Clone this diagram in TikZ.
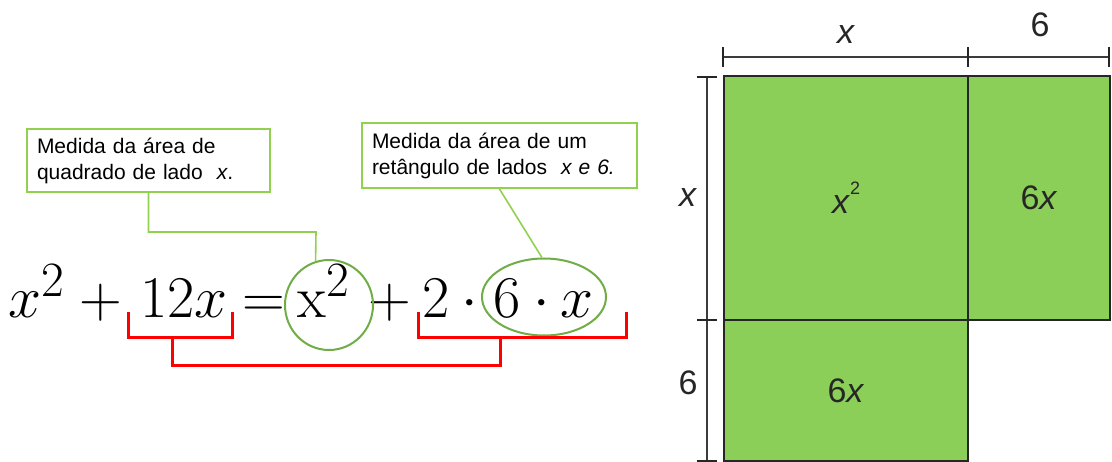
\documentclass[tikz,border=0pt]{standalone}
\usepackage{fontspec}
\setmainfont{Liberation Sans}
\newfontfamily\lmrfont{Latin Modern Roman}
\usetikzlibrary{shapes.geometric}
\definecolor{boxgreen}{RGB}{146,208,80}
\definecolor{ringgreen}{RGB}{112,173,71}
\definecolor{cellgreen}{RGB}{139,207,88}
\definecolor{dimgray}{RGB}{60,60,60}
\tikzset{
  eq/.style={inner sep=0pt, anchor=base, font=\Huge, scale=2.38, transform shape},
  notebox/.style={draw=boxgreen, line width=2pt, inner sep=0pt, align=left,
    font=\fontsize{21}{26}\selectfont},
  conn/.style={draw=boxgreen, line width=1.6pt},
  ring/.style={draw=ringgreen, line width=2pt, ellipse, inner sep=0pt},
  redb/.style={draw=red, line width=3pt},
  cell/.style={draw=black!85, line width=1.3pt, fill=cellgreen, inner sep=0pt,
    font=\fontsize{34}{38}\selectfont, text=black!85},
  dimline/.style={draw=dimgray, line width=1.6pt},
  dimtick/.style={draw=black!85, line width=2.6pt},
  dimlab/.style={inner sep=0pt, font=\fontsize{34}{38}\selectfont, text=black!85}
}
\begin{document}
\begin{tikzpicture}[x=1pt,y=-1pt]
\useasboundingbox (0,0) rectangle (1112,462);

% ---------- equation ----------
\node[eq] (e1) at (37,318) {$x^2$};
\node[eq] (e2) at (101,318) {$+$};
\node[eq] (e3) at (184,318) {$12x$};
\node[eq] (e4) at (264,318) {$=$};
\node[eq] (e5) at (324,318) {$\hbox{\lmrfont x}^2$};
\node[eq] (e6) at (390,318) {$+$};
\node[eq] (e7) at (436,318) {$2$};
\node[eq] (e8) at (470,318) {$\cdot$};
\node[eq] (e9) at (507,318) {$6$};
\node[eq] (e10) at (542,318) {$\cdot$};
\node[eq] (e11) at (577,318) {$x$};

% ---------- rings ----------
\node[ring, minimum width=88pt, minimum height=90pt] (c1) at (329,305) {};
\node[ring, minimum width=124pt, minimum height=77pt] (c2) at (544,297) {};

% ---------- note boxes ----------
\node[notebox, minimum width=243pt, minimum height=63pt, text width=223pt] (b1) at (148.5,160.5)
  {Medida da área de\\quadrado de lado \ \textit{x}.};
\node[notebox, minimum width=275pt, minimum height=65pt, text width=255pt] (b2) at (499.5,155.5)
  {Medida da área de um\\retângulo de lados \ \textit{x e 6.}};

\coordinate (k1) at (316,232);
\draw[conn] (b1.south) |- (k1) -- (c1.107);
\draw[conn] (b2.south) -- (c2.93);

% ---------- red brackets ----------
\coordinate (r1a) at (128,312);
\coordinate (r1b) at (232,338);
\coordinate (r2a) at (418,312);
\coordinate (r2b) at (626,338);
\coordinate (r3a) at (172,338);
\coordinate (r3b) at (500,366);
\draw[redb] (r1a) |- (r1b) -- (r1b |- r1a);
\draw[redb] (r2a) |- (r2b) -- (r2b |- r2a);
\draw[redb] (r3a) |- (r3b) -- (r3b |- r3a);

% ---------- area model ----------
\node[cell, minimum width=244pt, minimum height=244pt] (sq) at (846,198)
  {\textit{x}\raisebox{0.55em}{\fontsize{18}{20}\selectfont 2}};
\node[cell, minimum width=142pt, minimum height=244pt] (rt) at (1039,198) {6\textit{x}};
\node[cell, minimum width=244pt, minimum height=141pt] (bt) at (846,390.5) {6\textit{x}};

% top dimension
\coordinate (t1) at (723,57);
\coordinate (t2) at (968,57);
\coordinate (t3) at (1109,57);
\draw[dimline] (t1) -- (t3);
\draw[dimtick] ([yshift=-10pt]t1) -- ([yshift=10pt]t1);
\draw[dimtick] ([yshift=-10pt]t2) -- ([yshift=10pt]t2);
\draw[dimtick] ([yshift=-10pt]t3) -- ([yshift=10pt]t3);
\node[dimlab] (lx1) at (846,35) {\textit{x}};
\node[dimlab] (l61) at (1040,25) {6};

% left dimension
\coordinate (v1) at (707,77);
\coordinate (v2) at (707,320);
\coordinate (v3) at (707,461);
\draw[dimline] (v1) -- (v3);
\draw[dimtick] ([xshift=-10pt]v1) -- ([xshift=10pt]v1);
\draw[dimtick] ([xshift=-10pt]v2) -- ([xshift=10pt]v2);
\draw[dimtick] ([xshift=-10pt]v3) -- ([xshift=10pt]v3);
\node[dimlab] (lx2) at (688,198) {\textit{x}};
\node[dimlab] (l62) at (688,383) {6};
\end{tikzpicture}
\end{document}
